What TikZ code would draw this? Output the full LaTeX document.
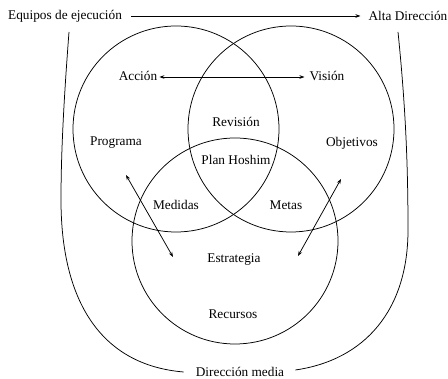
\documentclass[tikz,border=0pt]{standalone}
\usepackage{fontspec}
\setmainfont{Liberation Serif}
\usetikzlibrary{arrows.meta}
\begin{document}
\begin{tikzpicture}[x=1pt,y=-1pt,
  lbl/.style={font=\fontsize{13.3}{16}\selectfont, inner sep=0pt},
  ring/.style={draw, circle, line width=0.75pt, minimum size=206pt, inner sep=0pt},
  ln/.style={line width=0.75pt},
  arr/.style={ln, -{Stealth[length=5pt,width=3.6pt]}},
  darr/.style={ln, {Stealth[length=5pt,width=3.6pt]}-{Stealth[length=5pt,width=3.6pt]}}]
\useasboundingbox (0,0) rectangle (448,379);
% circles
\node[ring] (cL) at (176,129) {};
\node[ring] (cR) at (291,129) {};
\node[ring] (cB) at (235,241) {};
% top labels
\node[lbl, anchor=west] (eq) at (8,16) {Equipos de ejecución};
\node[lbl, anchor=east] (alta) at (447.5,16) {Alta Dirección};
\draw[arr] ([xshift=9pt]eq.east) -- ([xshift=-8pt]alta.west);
% inner labels
\node[lbl] (acc) at (138,76) {Acción};
\node[lbl] (vis) at (327,76) {Visión};
\draw[darr] ([xshift=2pt,yshift=-1pt]acc.east) -- ([xshift=-5pt,yshift=-1pt]vis.west);
\node[lbl] (rev) at (236,122) {Revisión};
\node[lbl] (prog) at (116,143) {Programa};
\node[lbl] (obj) at (352,143) {Objetivos};
\node[lbl] (plan) at (236,160) {Plan Hoshim};
\node[lbl] (med) at (176,205) {Medidas};
\node[lbl] (met) at (286,205) {Metas};
\node[lbl] (est) at (234,260) {Estrategia};
\node[lbl] (rec) at (233,314) {Recursos};
\node[lbl] (dm) at (240,372) {Dirección media};
% diagonal arrows
\coordinate (a1) at (126,175);
\coordinate (a2) at (173,257);
\coordinate (b1) at (298,256);
\coordinate (b2) at (341,179);
\draw[darr] (a1) -- (a2);
\draw[darr] (b1) -- (b2);
% outer U
\coordinate (uL) at (69,32);
\coordinate (uR) at (398,32);
\draw[ln] (uL) .. controls (63,110) and (61,160) .. (61,200)
  .. controls (61,300) and (100,365) .. ([xshift=-12pt,yshift=0pt]dm.west);
\draw[ln] (uR) .. controls (406,110) and (408,170) .. (408,230)
  .. controls (408,310) and (365,360) .. ([xshift=11pt,yshift=2pt]dm.east);
\end{tikzpicture}
\end{document}
